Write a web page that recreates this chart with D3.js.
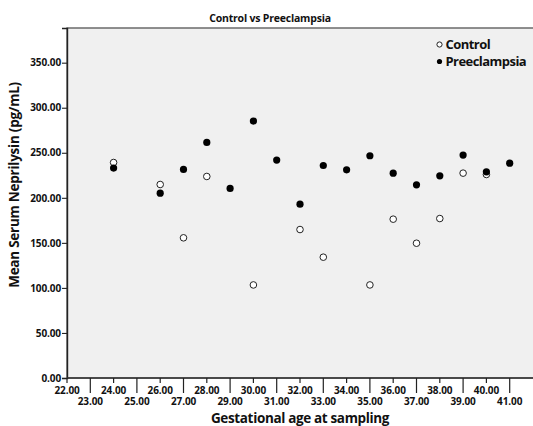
<!DOCTYPE html>
<html>
<head>
<meta charset="utf-8">
<script src="https://cdn.jsdelivr.net/npm/d3@7"></script>
<style>
  html, body { margin: 0; padding: 0; background: #fff; }
  svg { display: block; }
  text { font-family: "Open Sans", "DejaVu Sans", sans-serif; font-weight: 700; fill: #111; }
</style>
</head>
<body>
<svg id="chart" width="533" height="426"></svg>
<script>
// ---- data ----
const controlAges   = [24, 26, 27, 28, 30, 32, 33, 35, 36, 37, 38, 39, 40];
const controlValues = [239.2, 214.8, 155.6, 223.7, 103.3, 164.8, 134.1, 103.3, 176.3, 149.6, 177.0, 227.4, 225.9];
const preAges   = [24, 26, 27, 28, 29, 30, 31, 32, 33, 34, 35, 36, 37, 38, 39, 40, 41];
const preValues = [233.0, 205.2, 231.5, 261.5, 210.4, 285.2, 241.9, 193.0, 235.9, 231.1, 246.7, 227.4, 214.4, 224.4, 247.4, 228.9, 238.5];
const yTicks = [0, 50, 100, 150, 200, 250, 300, 350];
const xTicks = [22, 23, 24, 25, 26, 27, 28, 29, 30, 31, 32, 33, 34, 35, 36, 37, 38, 39, 40, 41];
const seriesNames = ["Control", "Preeclampsia"];
const titleText = "Control vs Preeclampsia";
const xTitle = "Gestational age at sampling";
const yTitle = "Mean Serum Neprilysin (pg/mL)";

// ---- layout ----
const W = 533, H = 426;
const m = { left: 67, top: 28, right: 0, bottom: 48 };
const pw = W - m.left - m.right, ph = H - m.top - m.bottom;

const svg = d3.select("#chart");
const x = d3.scaleLinear().domain([22, 42]).range([m.left, m.left + pw]);
const y = d3.scaleLinear().domain([0, 388.5]).range([m.top + ph, m.top]);

// plot background
svg.append("rect")
  .attr("x", m.left).attr("y", m.top)
  .attr("width", pw + 2).attr("height", ph)
  .attr("fill", "#f0f0f0")
  .attr("stroke", "#555").attr("stroke-width", 1.3);

// y axis
const yAxis = d3.axisLeft(y).tickValues(yTicks).tickSize(5).tickPadding(1)
  .tickFormat(d => d.toFixed(2));
const gy = svg.append("g").attr("transform", `translate(${m.left},0)`).call(yAxis);
gy.select(".domain").attr("stroke", "#222").attr("stroke-width", 1.4);
gy.selectAll(".tick line").attr("stroke", "#222").attr("stroke-width", 1.1);
gy.selectAll(".tick text").style("font-size", "10px").attr("fill", "#111")
  .style("font-family", "'Open Sans', sans-serif").style("font-weight", 700)
  .style("letter-spacing", "-0.1px");

// x axis (even labels on upper row with short ticks, odd labels lower with long ticks)
const gx = svg.append("g").attr("transform", `translate(0,${m.top + ph})`);
gx.append("line").attr("x1", m.left).attr("x2", m.left + pw).attr("stroke", "#333").attr("stroke-width", 1.4);
const tk = gx.selectAll(".tk").data(xTicks).enter().append("g")
  .attr("transform", d => `translate(${x(d)},0)`);
tk.append("line")
  .attr("y1", 0).attr("y2", d => d % 2 === 0 ? 5 : 15)
  .attr("stroke", "#222").attr("stroke-width", 1.2);
tk.append("text")
  .attr("y", d => d % 2 === 0 ? 15.5 : 26.5)
  .attr("text-anchor", "middle")
  .style("font-size", "10px")
  .style("letter-spacing", "-0.1px")
  .text(d => d.toFixed(2));

// title + axis titles
svg.append("text").attr("x", 270).attr("y", 22).attr("text-anchor", "middle")
  .style("font-size", "10.5px").style("letter-spacing", "-0.2px").text(titleText);
svg.append("text").attr("x", 300).attr("y", 423).attr("text-anchor", "middle")
  .style("font-size", "13.5px").style("letter-spacing", "-0.35px").text(xTitle);
svg.append("text").attr("transform", "translate(19,185) rotate(-90)").attr("text-anchor", "middle")
  .style("font-size", "13.5px").style("letter-spacing", "-0.25px").text(yTitle);

// points
const ctrl = controlAges.map((a, i) => ({ a, v: controlValues[i] }));
const pre = preAges.map((a, i) => ({ a, v: preValues[i] }));
svg.append("g").selectAll("circle").data(ctrl).enter().append("circle")
  .attr("cx", d => x(d.a)).attr("cy", d => y(d.v)).attr("r", 3.3)
  .attr("fill", "#fff").attr("stroke", "#222").attr("stroke-width", 1);
svg.append("g").selectAll("circle").data(pre).enter().append("circle")
  .attr("cx", d => x(d.a)).attr("cy", d => y(d.v)).attr("r", 3.6)
  .attr("fill", "#000");

// legend
const lg = svg.append("g");
const ly = [44.5, 61.5];
seriesNames.forEach((n, i) => {
  const c = lg.append("circle").attr("cx", 439.5).attr("cy", ly[i]).attr("r", 2.6);
  if (i === 0) c.attr("fill", "#fff").attr("stroke", "#222").attr("stroke-width", 1);
  else c.attr("fill", "#000");
  lg.append("text").attr("x", 445.5).attr("y", ly[i] + 4.6)
    .style("font-size", "13px").style("letter-spacing", "-0.55px").text(n);
});
</script>
</body>
</html>
